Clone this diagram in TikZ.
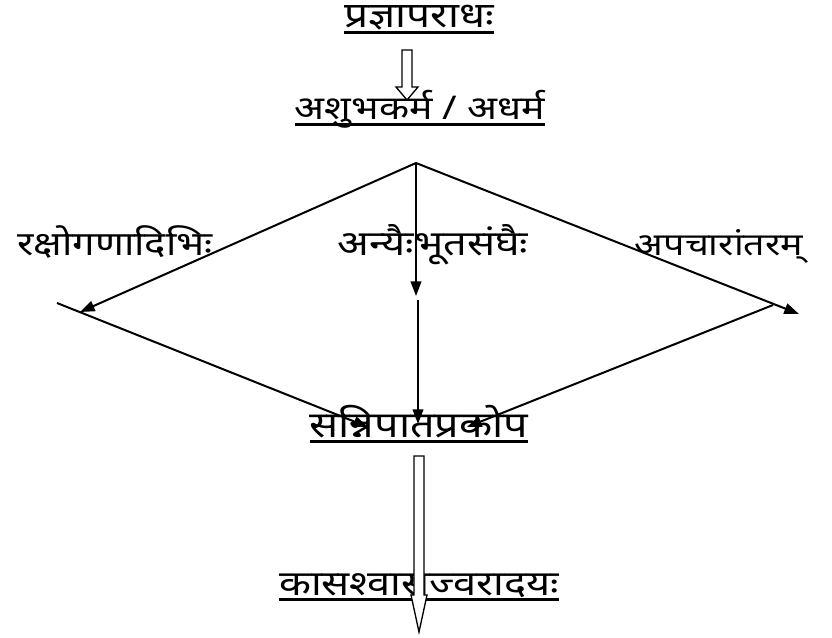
\documentclass[tikz,border=0pt]{standalone}
\usepackage{fontspec}
\setmainfont[Script=Devanagari,FakeStretch=1.2]{Noto Sans}
\usepackage{tikz}
\usetikzlibrary{arrows.meta,calc}

\newcommand\uline[1]{\sbox0{#1}\rlap{\usebox0}\rule[-0.17em]{\wd0}{0.09em}}

\begin{document}
\begin{tikzpicture}[x=0.75pt,y=-0.75pt,
  lbl/.style={inner sep=0pt, anchor=base, font=\fontsize{25}{28}\selectfont},
  arr/.style={-{Triangle[length=11pt,width=8pt]}, line width=1.5pt},
  hollow/.style={draw, line width=1pt, fill=white}
]
  \useasboundingbox (0,0) rectangle (832,638);

  % texts
  \node[lbl, font=\fontsize{26.5}{30}\selectfont] (aparadh) at (419,28) {\uline{प्रज्ञापराधः}};
  \node[lbl, font=\fontsize{24.5}{28}\selectfont] (ashubh) at (420,120) {\uline{अशुभकर्म / अधर्म}};
  \node[lbl] (raksho) at (115,255) {रक्षोगणादिभिः};
  \node[lbl, font=\fontsize{26}{30}\selectfont] (anyai) at (433,255) {अन्यैःभूतसंघैः};
  \node[lbl, font=\fontsize{23.5}{26}\selectfont] (apachar) at (719,255) {अपचारांतरम्};
  \node[lbl, font=\fontsize{27}{30}\selectfont] (sanni) at (419,437) {\uline{सन्निपातप्रकोप}};
  \node[lbl, font=\fontsize{26}{30}\selectfont] (kasa) at (419,595) {\uline{कासश्वासज्वरादयः}};

  % hollow arrows
  \coordinate (h1) at (407,50);
  \coordinate (k1) at (407,100);
  \draw[hollow] ($(h1)+(-5,0)$) -- ($(k1)+(-5,-13)$) -- ($(k1)+(-11,-13)$) -- (k1)
    -- ($(k1)+(11,-13)$) -- ($(k1)+(5,-13)$) -- ($(h1)+(5,0)$) -- cycle;

  \coordinate (h2) at (419,456);
  \coordinate (k2) at (419,632);
  \draw[hollow] ($(h2)+(-5,0)$) -- ($(k2)+(-5,-37)$) -- ($(k2)+(-8,-37)$) -- (k2)
    -- ($(k2)+(8,-37)$) -- ($(k2)+(5,-37)$) -- ($(h2)+(5,0)$) -- cycle;

  % branching lines
  \coordinate (apex) at (416,163);
  \coordinate (ltip) at (80,312);
  \coordinate (mtip) at (416,296);
  \coordinate (rtip) at (799,314);
  \coordinate (lfrom) at (57,303);
  \coordinate (mfrom) at (418,300);
  \coordinate (rfrom) at (773,305);
  \coordinate (lend) at (368,427);
  \coordinate (mend) at (418,424);
  \coordinate (rend) at (467,427);

  \draw[arr] (apex) -- (ltip);
  \draw[arr] (apex) -- (mtip);
  \draw[arr] (apex) -- (rtip);
  \draw[arr] (lfrom) -- (lend);
  \draw[arr] (mfrom) -- (mend);
  \draw[arr] (rfrom) -- (rend);
\end{tikzpicture}
\end{document}
